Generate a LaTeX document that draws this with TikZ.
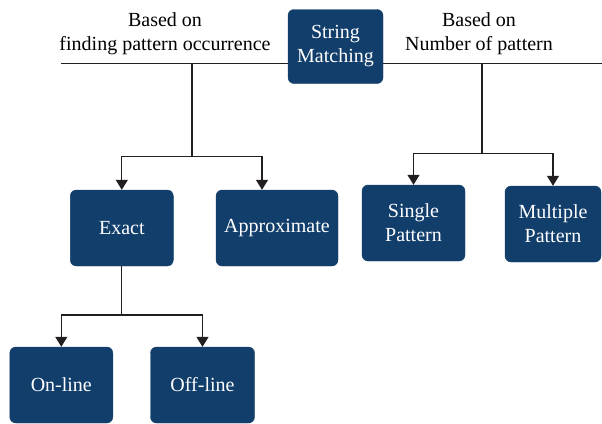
\documentclass[tikz,border=0pt]{standalone}
\usepackage{fontspec}
\setmainfont{Liberation Serif}
\usepackage{xcolor}
\usepackage{tikz}
\usetikzlibrary{arrows.meta, positioning}
\definecolor{boxblue}{RGB}{18,62,107}
\definecolor{linegray}{RGB}{35,31,32}

\begin{document}
\begin{tikzpicture}[x=1pt, y=-1pt,
    font=\fontsize{20}{24}\selectfont,
    box/.style={draw=boxblue, fill=boxblue, text=white, rounded corners=6pt,
                align=center, inner sep=0pt},
    link/.style={draw=linegray, line width=1.2pt},
    arr/.style={link, -{Triangle[width=12pt,length=10pt]}}]
    \useasboundingbox (0,0) rectangle (602,423);

    % Main line
    \coordinate (lineL) at (61,63.5);
    \coordinate (lineR) at (602,63.5);
    \draw[link] (lineL) -- (lineR);

    % Root
    \node[box, minimum width=95pt, minimum height=74pt] (root) at (335.5,46.5) {String\\Matching};

    % Criteria
    \node[align=center, inner sep=0pt] (critL) at (165,33.5) {Based on\\finding pattern occurrence};
    \node[align=center, inner sep=0pt] (critR) at (479,33.5) {Based on\\Number of pattern};

    % Level 1
    \node[box, minimum width=103pt, minimum height=76pt] (exact) at (121.8,228) {Exact};
    \node[box, minimum width=122pt, minimum height=76pt] (approx) at (277,228) {Approximate};
    \node[box, minimum width=103pt, minimum height=76pt] (single) at (413.5,223) {Single\\Pattern};
    \node[box, minimum width=96pt, minimum height=76pt] (multi) at (553,224) {Multiple\\Pattern};

    % Level 2
    \node[box, minimum width=103pt, minimum height=76pt] (online) at (61.3,385) {On-line};
    \node[box, minimum width=104pt, minimum height=76pt] (offline) at (202.5,385) {Off-line};

    % Branches
    \coordinate (brL) at (192,63.5);
    \coordinate (jL) at (192,156.5);
    \draw[link] (brL) -- (jL);
    \draw[arr] (jL) -| (exact);
    \draw[arr] (jL) -| ([xshift=-15pt]approx.north);

    \coordinate (brR) at (482,63.5);
    \coordinate (jR) at (482,153.5);
    \draw[link] (brR) -- (jR);
    \draw[arr] (jR) -| (single);
    \draw[arr] (jR) -| (multi);

    \coordinate (jE) at (121.8,315);
    \draw[link] (exact) -- (jE);
    \draw[arr] (jE) -| (online);
    \draw[arr] (jE) -| (offline);
\end{tikzpicture}
\end{document}
